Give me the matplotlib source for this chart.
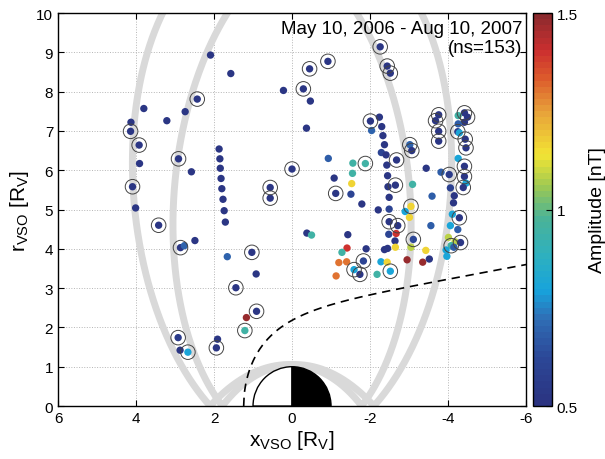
import numpy as np
import matplotlib.pyplot as plt
from matplotlib.colors import LinearSegmentedColormap, Normalize
from matplotlib.patches import Wedge
import matplotlib.cm as cm

plt.rcParams['font.family'] = ['Liberation Sans', 'DejaVu Sans']
plt.rcParams['mathtext.fontset'] = 'custom'
plt.rcParams['mathtext.rm'] = 'Liberation Sans'
plt.rcParams['axes.unicode_minus'] = False

# event positions (x_VSO, r_VSO in R_V), amplitude in nT, ring = 1 if marked
x_vso = [2.09, 1.57, 2.43, 3.80, 2.74, 3.21, 4.13, 4.14, 3.92, 3.91,
         2.91, 2.58, 4.09, 4.01, 3.42, 2.86, 2.76, 2.49,
         1.87, 1.85, 1.84, 1.82, 1.80, 1.77, 1.74, 1.71,
         1.66, 1.03, 0.92, 1.44, 0.91, 1.17, 1.21, 2.92, 2.87, 2.67, 1.91, 1.94,
         -2.26, -2.44, -2.52, -0.92, -0.45, 0.22, -0.29, -0.47, -0.37,
         -2.01, -2.24, -2.04, -2.30, -2.33, -2.37, -3.02,
         -3.76, -3.68, -3.76, -3.76,
         -4.42, -4.26, -4.50, -4.42, -4.26, -4.25, -4.29, -4.44, -4.46,
         -0.93, -1.56, -1.88, -1.55, -1.53, -1.08, -1.12, -1.51, -1.79, -2.21,
         0.00, 0.56, 0.56,
         -0.38, -0.50, -1.43, -1.41, -1.28, -1.90, -1.20, -1.40, -1.83, -1.59,
         -1.74, -1.13, -2.18, -2.52, -2.28, -2.44,
         -2.29, -2.41, -2.43, -2.45, -2.46, -2.65, -2.49, -2.49, -2.68, -2.49,
         -2.71, -2.48, -2.67, -2.64, -2.45, -2.37, -2.65,
         -3.07, -3.09, -3.05, -2.90, -3.01, -3.11, -3.05, -2.95, -3.35, -3.43, -3.52,
         -3.44, -3.82, -4.03, -4.06, -3.59, -4.16, -4.14, -4.11, -4.29, -4.06,
         -4.25, -3.56, -4.01, -4.18, -4.32, -4.08, -4.15, -3.95, -3.97,
         -4.26, -4.42, -4.42, -4.46, -4.39]
r_vso = [8.93, 8.46, 7.81, 7.57, 7.49, 7.26, 7.22, 6.99, 6.64, 6.17,
         6.29, 5.96, 5.58, 5.04, 4.60, 4.03, 4.08, 4.21,
         6.54, 6.29, 6.05, 5.79, 5.53, 5.26, 4.97, 4.68,
         3.80, 3.91, 3.36, 3.01, 2.41, 2.25, 1.92, 1.74, 1.42, 1.37, 1.70, 1.48,
         9.14, 8.65, 8.47, 8.77, 8.58, 8.03, 8.07, 7.76, 7.07,
         7.25, 7.35, 7.01, 7.11, 6.88, 6.65, 6.65,
         7.41, 7.26, 6.99, 6.74,
         7.46, 7.39, 7.35, 7.22, 7.18, 6.98, 6.95, 6.79, 6.57,
         6.30, 6.18, 6.17, 5.92, 5.66, 5.80, 5.41, 5.39, 5.14, 4.99,
         6.03, 5.56, 5.29,
         4.40, 4.35, 4.36, 4.02, 3.91, 4.00, 3.65, 3.67, 3.69, 3.47,
         3.35, 3.31, 3.35, 3.43, 3.67, 3.66,
         6.45, 6.39, 6.13, 5.86, 5.58, 5.62, 5.31, 5.01, 6.26, 4.69,
         4.59, 4.37, 4.39, 4.20, 4.01, 3.98, 4.04,
         6.50, 5.64, 5.08, 4.95, 4.80, 4.24, 4.04, 3.72, 3.66, 3.96, 3.74,
         6.05, 5.95, 5.89, 5.55, 5.34, 5.35, 5.17, 4.88, 4.79, 4.59,
         4.49, 4.59, 4.29, 4.18, 4.16, 4.08, 4.04, 3.97, 3.81,
         6.30, 6.10, 5.84, 5.67, 5.56]
amp = [0.52, 0.52, 0.52, 0.52, 0.52, 0.52, 0.52, 0.52, 0.52, 0.52,
       0.52, 0.52, 0.52, 0.52, 0.52, 0.52, 0.70, 0.52,
       0.52, 0.52, 0.52, 0.52, 0.52, 0.52, 0.52, 0.52,
       0.70, 0.52, 0.52, 0.52, 0.52, 1.48, 0.95, 0.55, 0.52, 0.80, 0.52, 0.52,
       0.52, 0.52, 0.52, 0.52, 0.52, 0.52, 0.52, 0.52, 0.52,
       0.52, 0.52, 0.70, 0.52, 0.52, 0.52, 0.70,
       0.52, 0.52, 0.52, 0.52,
       0.52, 0.95, 0.52, 0.52, 0.68, 0.55, 0.80, 0.52, 0.52,
       0.68, 0.95, 0.95, 0.95, 1.17, 0.52, 0.52, 0.60, 0.52, 0.52,
       0.52, 0.52, 0.52,
       0.52, 0.95, 0.52, 1.40, 0.95, 0.52, 1.30, 1.30, 0.60, 0.80,
       0.52, 1.30, 0.95, 0.80, 0.80, 1.17,
       0.60, 0.52, 0.52, 0.52, 0.52, 0.52, 0.52, 0.60, 0.52, 0.52,
       0.52, 0.60, 1.40, 0.52, 0.52, 0.52, 1.17,
       0.52, 0.95, 1.17, 0.80, 1.17, 0.62, 1.08, 1.48, 1.48, 1.17, 0.52,
       0.52, 0.68, 0.55, 0.58, 0.68, 0.52, 0.52, 0.80, 0.52, 0.80,
       0.68, 0.68, 1.08, 1.08, 0.52, 0.95, 0.68, 0.80, 0.80,
       0.80, 0.52, 0.52, 0.80, 0.52]
ring = [0, 0, 1, 0, 0, 0, 0, 1, 1, 0,
        1, 0, 1, 0, 1, 1, 0, 0,
        0, 0, 0, 0, 0, 0, 0, 0,
        0, 1, 0, 1, 1, 0, 1, 1, 0, 1, 0, 1,
        1, 1, 1, 1, 1, 0, 1, 0, 0,
        1, 0, 0, 0, 0, 0, 1,
        1, 1, 1, 1,
        1, 0, 1, 0, 0, 1, 0, 1, 1,
        0, 0, 1, 0, 0, 0, 1, 0, 0, 0,
        1, 1, 1,
        0, 0, 0, 0, 0, 0, 0, 0, 1, 1,
        1, 0, 0, 1, 0, 0,
        0, 0, 0, 0, 0, 1, 0, 0, 1, 1,
        1, 0, 0, 0, 0, 0, 0,
        1, 0, 1, 0, 0, 1, 0, 0, 0, 0, 0,
        0, 0, 1, 0, 0, 0, 0, 0, 1, 0,
        0, 0, 0, 0, 1, 1, 0, 0, 0,
        0, 1, 1, 0, 1]

x_vso = np.array(x_vso)
r_vso = np.array(r_vso)
amp = np.array(amp)
ring = np.array(ring, dtype=bool)

# Venus Express orbit (periapsis / apoapsis radius, tilt of the line of apsides)
r_peri, r_apo = 1.05, 11.9
apse_tilt = np.deg2rad(5.5)

# boundary: nose position, nightside line and dayside scale
icb_nose = 1.24
icb_a, icb_b, icb_s = 2.26, 0.185, 0.85

cmap = LinearSegmentedColormap.from_list(
    'amp', [(0.00, '#2b3381'), (0.12, '#2c4898'), (0.22, '#2f6fb6'),
            (0.29, '#17a3dc'), (0.38, '#2eb0bf'), (0.48, '#4bb396'),
            (0.56, '#9ec952'), (0.64, '#f2e434'), (0.75, '#e8a33a'),
            (0.84, '#dc5a2c'), (0.91, '#cc2f2f'), (1.00, '#8c2a2e')], N=64)
norm = Normalize(0.5, 1.5)

fig = plt.figure(figsize=(6.05, 4.6), dpi=100)
ax = fig.add_axes([0.0959, 0.1152, 0.7736, 0.8543])
cax = fig.add_axes([0.881, 0.1152, 0.0314, 0.8543])

# orbit tracks folded into (x, r)
p = 2 * r_peri * r_apo / (r_peri + r_apo)
ecc = (r_apo - r_peri) / (r_apo + r_peri)
nu = np.linspace(0, 2 * np.pi, 1441)
rad = p / (1 + ecc * np.cos(nu))
for sgn in (1, -1):
    phi = -sgn * apse_tilt + nu
    ax.plot(rad * np.sin(phi), np.abs(rad * np.cos(phi)), color='#d9d9d9',
            lw=5, solid_capstyle='butt', zorder=1)

# dashed boundary
xb = np.linspace(icb_nose, -6.5, 600)
D = icb_nose - xb
rb = (icb_a + icb_b * D) * np.sqrt(1 - np.exp(-D / icb_s))
ax.plot(xb, rb, color='k', lw=1.2, ls=(0, (5, 3.5)), zorder=2)

# planet: day side white, night side black
ax.add_patch(Wedge((0, 0), 1, 0, 90, fc='white', ec='k', lw=1, zorder=3))
ax.add_patch(Wedge((0, 0), 1, 90, 180, fc='black', ec='k', lw=1, zorder=3))

ax.scatter(x_vso, r_vso, c=amp, cmap=cmap, norm=norm, s=28,
           edgecolors='none', zorder=4)
ax.scatter(x_vso[ring], r_vso[ring], s=110, facecolors='none',
           edgecolors='#444444', linewidths=0.7, zorder=5)

ax.set_xlim(6, -6)
ax.set_ylim(0, 10)
ax.set_xticks([6, 4, 2, 0, -2, -4, -6])
ax.set_xticklabels(['6', '4', '2', '0', '-2', '-4', '-6'])
ax.set_yticks(range(11))
ax.grid(True, ls=':', color='#b5b5b5', lw=0.7, zorder=0)
ax.set_axisbelow(True)
ax.tick_params(direction='in', top=True, right=True, labelsize=11, length=4)
for s in ax.spines.values():
    s.set_linewidth(1.0)

ax.set_xlabel('x$_{\\mathrm{VSO}}$ [R$_{\\mathrm{V}}$]', fontsize=15, labelpad=2)
ax.set_ylabel('r$_{\\mathrm{VSO}}$ [R$_{\\mathrm{V}}$]', fontsize=15, labelpad=4)

ax.text(0.992, 0.983, 'May 10, 2006 - Aug 10, 2007\n(ns=153)',
        transform=ax.transAxes, ha='right', va='top', multialignment='right',
        fontsize=13.5, linespacing=1.15, zorder=6)

cb = fig.colorbar(cm.ScalarMappable(norm=norm, cmap=cmap), cax=cax)
cb.set_ticks([0.5, 1, 1.5])
cb.set_ticklabels(['0.5', '1', '1.5'])
cb.ax.tick_params(direction='in', labelsize=11, length=4)
cb.outline.set_linewidth(1.0)
cb.set_label('Amplitude [nT]', fontsize=14, labelpad=8)

fig.savefig('out.png', dpi=100)
